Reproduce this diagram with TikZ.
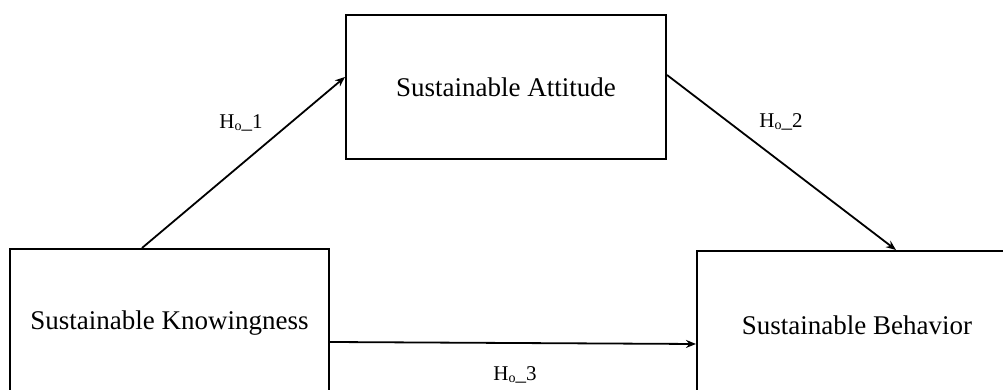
\documentclass[tikz,border=0pt]{standalone}
\usepackage{fontspec}
\setmainfont{Liberation Serif}
\usetikzlibrary{arrows.meta}
\newcommand{\hsub}{H\raisebox{-1.5pt}{\fontsize{14}{14}\selectfont o}}
\begin{document}
\begin{tikzpicture}[x=1pt,y=1pt,
  varbox/.style={draw=black, line width=2pt, rectangle, inner sep=0pt,
    font=\fontsize{27}{32}\selectfont},
  link/.style={line width=1.8pt, -{Stealth[length=10pt,width=8pt]}},
  hyp/.style={font=\fontsize{21}{25}\selectfont, inner sep=0pt}]
  \useasboundingbox[clip] (0,0) rectangle (1003,390);
  \fill[white] (0,0) rectangle (1003,390);

  % constructs of the model
  \node[varbox, minimum width=320pt, minimum height=144pt] (att) at (506,303) {Sustainable Attitude};
  \node[varbox, minimum width=319pt, minimum height=148pt] (know) at (169.5,67) {Sustainable Knowingness};
  \node[varbox, minimum width=320pt, minimum height=148pt] (beh) at (857,65) {Sustainable Behavior};

  % connector end points on the box borders
  \coordinate (k1) at ([xshift=133pt]know.north west);
  \coordinate (a1) at ([yshift=10pt]att.west);
  \coordinate (a2) at ([yshift=12pt]att.east);
  \coordinate (b2) at ([xshift=200pt]beh.north west);
  \coordinate (k3) at ([yshift=-19pt]know.east);
  \coordinate (b3) at ([yshift=-19pt]beh.west);

  % hypothesised paths
  \draw[link] (k1) -- (a1);
  \draw[link] (a2) -- (b2);
  \draw[link] (k3) -- (b3);

  % path labels
  \node[hyp] (h1) at (241,267) {\hsub\_1};
  \node[hyp] (h2) at (781,268) {\hsub\_2};
  \node[hyp] (h3) at (515,15) {\hsub\_3};
\end{tikzpicture}
\end{document}
